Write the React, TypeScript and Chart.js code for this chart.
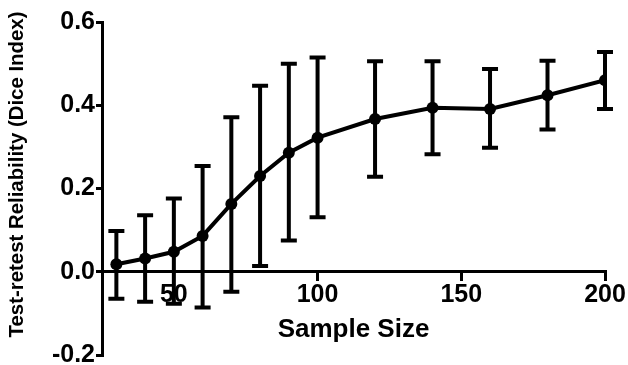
import React, { useEffect, useRef } from "react";
import { Chart, registerables } from "chart.js";

Chart.register(...registerables);

const sampleSizes = [30, 40, 50, 60, 70, 80, 90, 100, 120, 140, 160, 180, 200];
const meanDice = [0.018, 0.032, 0.048, 0.086, 0.163, 0.23, 0.286, 0.322, 0.367, 0.394, 0.391, 0.424, 0.46];
const upperDice = [0.098, 0.136, 0.176, 0.254, 0.371, 0.447, 0.5, 0.515, 0.506, 0.506, 0.487, 0.507, 0.528];
const lowerDice = [-0.065, -0.072, -0.077, -0.086, -0.048, 0.014, 0.075, 0.131, 0.228, 0.282, 0.298, 0.342, 0.391];
const xTickValues = [50, 100, 150, 200];
const yTickValues = [-0.2, 0, 0.2, 0.4, 0.6];
const xTitle = "Sample Size";
const yTitle = "Test-retest Reliability (Dice Index)";

const FONT = "'Liberation Sans', Arial, Helvetica, sans-serif";

const errorBarPlugin = {
  id: "errorBars",
  afterDatasetsDraw(chart: any) {
    const { ctx, scales } = chart;
    const xs = scales.x;
    const ys = scales.y;
    ctx.save();
    ctx.strokeStyle = "#000";
    ctx.lineWidth = 4;
    ctx.lineCap = "butt";
    const cap = 8;
    sampleSizes.forEach((sx, i) => {
      const px = xs.getPixelForValue(sx);
      const pTop = ys.getPixelForValue(upperDice[i]);
      const pBot = ys.getPixelForValue(lowerDice[i]);
      ctx.beginPath();
      ctx.moveTo(px, pTop);
      ctx.lineTo(px, pBot);
      ctx.moveTo(px - cap, pTop);
      ctx.lineTo(px + cap, pTop);
      ctx.moveTo(px - cap, pBot);
      ctx.lineTo(px + cap, pBot);
      ctx.stroke();
    });
    ctx.restore();
  },
};

const yTitlePlugin = {
  id: "yTitleText",
  afterDraw(chart: any) {
    const { ctx, chartArea } = chart;
    ctx.save();
    ctx.fillStyle = "#000";
    ctx.font = `bold 20.4px ${FONT}`;
    ctx.textAlign = "center";
    ctx.textBaseline = "middle";
    ctx.translate(17, (chartArea.top + chartArea.bottom) / 2 - 14);
    ctx.rotate(-Math.PI / 2);
    ctx.fillText(yTitle, 0, 0);
    ctx.restore();
  },
};

export default function App() {
  const canvasRef = useRef<HTMLCanvasElement | null>(null);

  useEffect(() => {
    if (!canvasRef.current) return;
    const chart = new Chart(canvasRef.current, {
      type: "line",
      data: {
        datasets: [
          {
            data: sampleSizes.map((x, i) => ({ x, y: meanDice[i] })),
            borderColor: "#000",
            backgroundColor: "#000",
            borderWidth: 4,
            pointRadius: 6,
            pointBackgroundColor: "#000",
            pointBorderColor: "#000",
            pointBorderWidth: 0,
            tension: 0,
          },
        ],
      },
      options: {
        responsive: false,
        animation: false,
        layout: { padding: { left: 0, right: 23, top: 22, bottom: 10 } },
        plugins: { legend: { display: false }, tooltip: { enabled: false } },
        scales: {
          x: {
            type: "linear",
            position: { y: 0 } as any,
            min: 25,
            max: 200,
            afterBuildTicks: (scale: any) => {
              scale.ticks = xTickValues.map((v) => ({ value: v }));
            },
            afterFit: (scale: any) => {
              scale.paddingLeft = 0;
              scale.paddingRight = 0;
            },
            border: { display: true, color: "#000", width: 3 },
            grid: { drawOnChartArea: false, drawTicks: true, tickLength: 8, color: "#000", lineWidth: 3 },
            ticks: {
              color: "#000",
              padding: 0,
              maxRotation: 0,
              autoSkip: false,
              font: { family: FONT, size: 25, weight: "bold" },
            },
            title: {
              display: true,
              text: xTitle,
              color: "#000",
              padding: { top: 4, bottom: 4 },
              font: { family: FONT, size: 26, weight: "bold" },
            },
          },
          y: {
            type: "linear",
            position: "left",
            min: -0.2,
            max: 0.6,
            afterBuildTicks: (scale: any) => {
              scale.ticks = yTickValues.map((v) => ({ value: v }));
            },
            afterFit: (scale: any) => {
              scale.width = 102;
              scale.paddingTop = 0;
              scale.paddingBottom = 0;
            },
            border: { display: true, color: "#000", width: 3 },
            grid: { drawOnChartArea: false, drawTicks: true, tickLength: 6, color: "#000", lineWidth: 3 },
            ticks: {
              color: "#000",
              padding: 1,
              autoSkip: false,
              font: { family: FONT, size: 25, weight: "bold" },
              callback: (v: any) => Number(v).toFixed(1),
            },
          },
        },
      },
      plugins: [errorBarPlugin, yTitlePlugin],
    });
    return () => chart.destroy();
  }, []);

  return (
    <div style={{ position: "absolute", left: 0, top: 0, width: 628, height: 365, background: "#fff" }}>
      <canvas ref={canvasRef} width={628} height={365} style={{ display: "block" }} />
    </div>
  );
}
